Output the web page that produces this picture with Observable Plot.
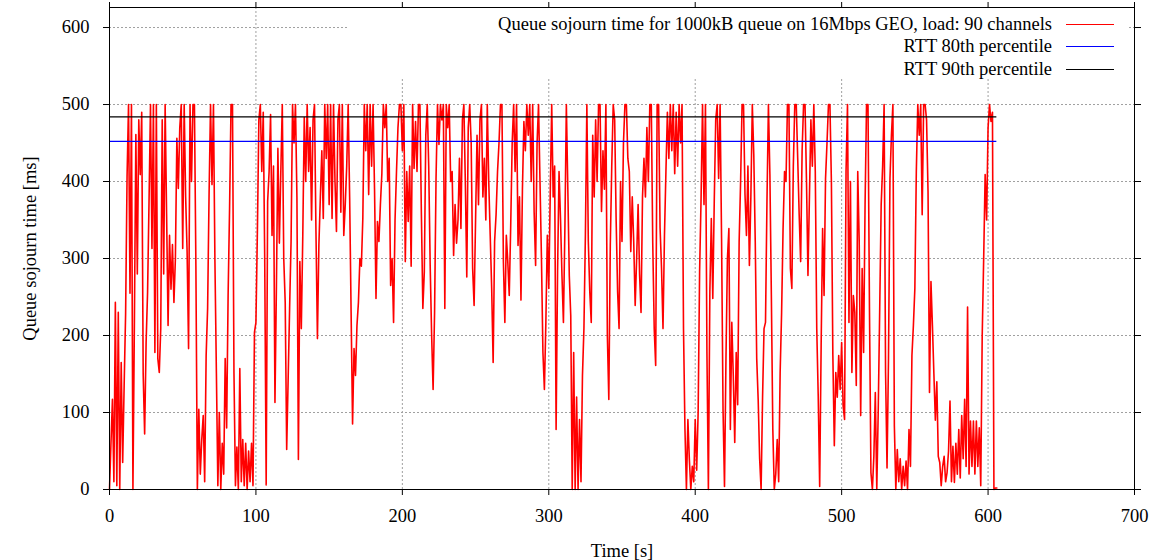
<!DOCTYPE html>
<html>
<head>
<meta charset="utf-8">
<script src="https://cdn.jsdelivr.net/npm/d3@7"></script>
<script src="https://cdn.jsdelivr.net/npm/@observablehq/plot@0.6"></script>
<style>
html, body { margin: 0; padding: 0; background: #fff; }
#wrap { position: relative; width: 1169px; height: 560px; font-family: 'Liberation Serif', serif; }
#legend { position: absolute; left: 348px; top: 8px; width: 780px; height: 70px; background: #fff; }
.row { position: absolute; left: 0; width: 780px; height: 22px; }
.row span { position: absolute; right: 76px; top: 0; line-height: 22px; font-size: 18.5px; white-space: nowrap; color: #000; }
.row i { position: absolute; left: 718px; width: 48px; top: 11px; height: 0; border-top: 1px solid; }
</style>
</head>
<body>
<div id="wrap"><div id="chart"></div><div id="legend"></div></div>
<script>
// ---- Data (queue sojourn time, ms, one value per second) ----
const segmentStarts = [0, 102, 203, 303, 404, 504];
const sojourn0 = [
  0, 60, 117, 10, 243, 5, 230, 0, 165, 35,
  135, 228, 407, 500, 255, 500, 0, 217, 461, 280,
  480, 409, 490, 150, 72, 191, 256, 374, 500, 313,
  500, 178, 500, 170, 152, 209, 480, 280, 500, 357,
  213, 330, 260, 318, 243, 300, 456, 391, 470, 500,
  313, 500, 380, 309, 183, 500, 400, 500, 500, 291,
  0, 104, 20, 65, 96, 10, 174, 235, 383, 500,
  396, 500, 296, 152, 5, 100, 0, 60, 20, 170,
  80, 252, 365, 500, 500, 152, 5, 55, 0, 157,
  10, 65, 5, 60, 0, 50, 10, 60, 5, 204,
  217, 335
];
const sojourn1 = [
  480, 500, 413, 490, 300, 6, 374, 413,
  487, 330, 420, 113, 265, 443, 320, 413, 500, 300,
  243, 52, 143, 235, 322, 500, 450, 500, 380, 39,
  296, 209, 330, 483, 400, 500, 413, 470, 350, 480,
  500, 335, 196, 318, 380, 440, 352, 500, 430, 500,
  370, 500, 352, 500, 400, 335, 480, 500, 360, 500,
  330, 370, 420, 500, 380, 230, 85, 183, 148, 213,
  243, 300, 290, 352, 500, 440, 500, 383, 500, 420,
  500, 390, 248, 348, 322, 370, 410, 500, 470, 500,
  400, 430, 265, 300, 217, 350, 413, 470, 500, 500,
  440, 500, 296
];
const sojourn2 = [
  413, 348, 420, 290, 500, 417, 478,
  413, 500, 500, 357, 235, 283, 460, 500, 420, 291,
  200, 130, 230, 404, 500, 448, 500, 480, 500, 235,
  500, 470, 500, 400, 413, 304, 370, 320, 350, 430,
  339, 480, 500, 400, 276, 470, 500, 450, 287, 239,
  350, 460, 370, 480, 500, 380, 430, 350, 500, 400,
  330, 261, 165, 322, 357, 413, 450, 500, 500, 296,
  217, 330, 296, 252, 343, 450, 500, 413, 500, 317,
  380, 246, 390, 478, 440, 500, 460, 500, 400, 500,
  360, 291, 450, 500, 400, 300, 178, 130, 217, 330,
  261, 383, 500
];
const sojourn3 = [
  380, 420, 78, 283, 413, 352, 278,
  217, 339, 500, 391, 278, 226, 0, 178, 0, 120,
  0, 91, 10, 148, 209, 330, 500, 322, 257, 217,
  460, 380, 480, 400, 500, 500, 361, 440, 390, 500,
  200, 117, 317, 420, 500, 480, 350, 257, 209, 400,
  322, 450, 500, 500, 430, 413, 309, 380, 322, 239,
  300, 370, 280, 230, 380, 430, 380, 470, 400, 500,
  500, 320, 209, 161, 500, 500, 340, 287, 209, 330,
  413, 490, 430, 500, 440, 500, 410, 490, 420, 500,
  450, 500, 209, 78, 0, 91, 39, 0, 30, 10,
  91, 25, 100, 283
];
const sojourn4 = [
  378, 500, 370, 500, 178, 0,
  257, 352, 248, 374, 480, 500, 404, 500, 326, 104,
  4, 170, 300, 339, 78, 217, 148, 61, 178, 110,
  322, 400, 500, 500, 383, 330, 420, 291, 380, 500,
  435, 322, 170, 117, 40, 0, 120, 209, 217, 374,
  500, 409, 252, 78, 0, 20, 65, 10, 152, 230,
  339, 413, 400, 500, 500, 287, 261, 420, 500, 500,
  430, 357, 296, 440, 500, 500, 400, 278, 380, 480,
  420, 500, 413, 209, 122, 4, 187, 339, 252, 404,
  450, 500, 500, 400, 174, 57, 152, 120, 174, 130,
  191, 109, 91, 413
];
const sojourn5 = [
  500, 217, 400, 152, 252, 230,
  135, 413, 322, 96, 287, 178, 370, 500, 500, 235,
  22, 0, 43, 126, 0, 104, 235, 370, 420, 500,
  152, 28, 170, 404, 460, 500, 83, 0, 52, 10,
  40, 0, 30, 5, 37, 0, 78, 30, 174, 213,
  261, 413, 500, 460, 500, 357, 500, 500, 480, 387,
  126, 270, 213, 150, 90, 140, 43, 35, 5, 30,
  43, 10, 22, 50, 115, 10, 56, 9, 60, 20,
  78, 15, 96, 40, 117, 30, 237, 20, 89, 30,
  89, 20, 89, 30, 80, 5, 200, 300, 409, 350,
  470, 500, 478, 490, 0, 2, 2
];
const percentileLevels = [452, 484];          // RTT 80th, 90th percentile (ms)
const percentileSpan = [0, 606];              // time span of the percentile lines (s)
const seriesNames = [
  "Queue sojourn time for 1000kB queue on 16Mbps GEO, load: 90 channels",
  "RTT 80th percentile",
  "RTT 90th percentile"
];
const xTicks = [0, 100, 200, 300, 400, 500, 600, 700];
const yTicks = [0, 100, 200, 300, 400, 500, 600];
const xDomain = [0, 700];
const yDomain = [0, 626];

// ---- styles ----
const seriesColors = ["#ff0000", "#0000ff", "#000000"];
const gridStyle = {stroke: "#a0a0a0", strokeOpacity: 1, strokeDasharray: "2,2", strokeWidth: 1};

// ---- build tables ----
const segments = [sojourn0, sojourn1, sojourn2, sojourn3, sojourn4, sojourn5];
const sojournRows = segments.flatMap((seg, k) => seg.map((v, i) => ({t: segmentStarts[k] + i, v})));
const percentileRows = percentileLevels.map((level, i) => ({level, from: percentileSpan[0], to: percentileSpan[1], name: seriesNames[i + 1], color: seriesColors[i + 1]}));

const chart = Plot.plot({
  width: 1169,
  height: 560,
  marginLeft: 109,
  marginRight: 35,
  marginTop: 7,
  marginBottom: 71,
  style: {fontFamily: "'Liberation Serif', serif", fontSize: "18.5px", background: "#fff", color: "#000", overflow: "visible"},
  x: {domain: xDomain},
  y: {domain: yDomain},
  marks: [
    Plot.gridX(xTicks, gridStyle),
    Plot.gridY(yTicks, gridStyle),
    Plot.line(sojournRows, {x: "t", y: "v", stroke: seriesColors[0], strokeWidth: 1.6}),
    Plot.ruleY(percentileRows, {y: "level", x1: "from", x2: "to", stroke: "color", strokeWidth: 1.2}),
    Plot.axisX(xTicks, {anchor: "bottom", tickSize: 6, tickPadding: 13, label: "Time [s]", labelAnchor: "center", labelOffset: 67, labelArrow: false}),
    Plot.axisX(xTicks, {anchor: "top", tickSize: 6, tickFormat: () => "", label: null}),
    Plot.axisY(yTicks, {anchor: "left", tickSize: 6, tickPadding: 14, label: "Queue sojourn time [ms]", labelAnchor: "center", labelOffset: 87, labelArrow: false}),
    Plot.axisY(yTicks, {anchor: "right", tickSize: 6, tickFormat: () => "", label: null}),
    Plot.frame({stroke: "#000", strokeWidth: 1})
  ]
});
document.getElementById("chart").appendChild(chart);

// ---- legend (gnuplot-style opaque key box) ----
const legend = document.getElementById("legend");
const rowTops = [5, 27, 50];
seriesNames.forEach((name, i) => {
  const row = document.createElement("div");
  row.className = "row";
  row.style.top = rowTops[i] + "px";
  const label = document.createElement("span");
  label.textContent = name;
  const swatch = document.createElement("i");
  swatch.style.borderTopColor = seriesColors[i];
  row.appendChild(label);
  row.appendChild(swatch);
  legend.appendChild(row);
});
</script>
</body>
</html>
